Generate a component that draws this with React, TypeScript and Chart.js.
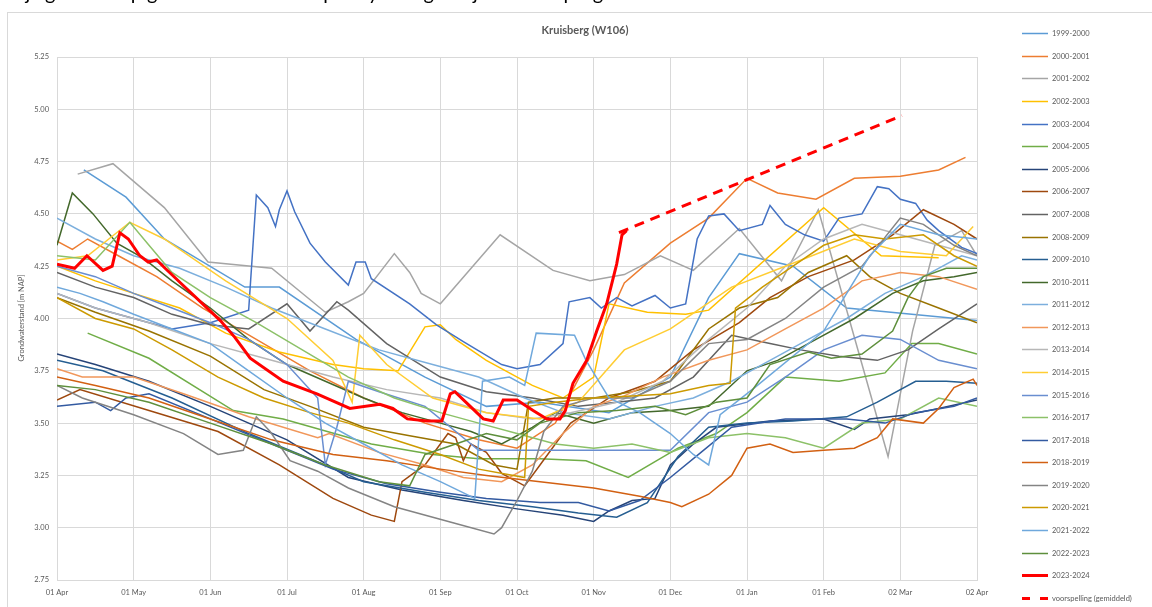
import React, { useEffect, useRef } from "react";
import { Chart, registerables } from "chart.js";

Chart.register(...registerables);

// x in months since 01 Apr (0..12), y in m NAP
const monthLabels = ["01 Apr", "01 May", "01 Jun", "01 Jul", "01 Aug", "01 Sep", "01 Oct", "01 Nov", "01 Dec", "01 Jan", "01 Feb", "02 Mar", "02 Apr"];
const seasonNames = ["1999-2000","2000-2001","2001-2002","2002-2003","2003-2004","2004-2005","2005-2006","2006-2007","2007-2008","2008-2009","2009-2010","2010-2011","2011-2012","2012-2013","2013-2014","2014-2015","2015-2016","2016-2017","2017-2018","2018-2019","2019-2020","2020-2021","2021-2022","2022-2023","2023-2024"];
const forecastName = "voorspelling (gemiddeld)";
const seasonColors = ["#5B9BD5","#ED7D31","#A5A5A5","#FFC000","#4472C4","#70AD47","#264478","#9E480E","#636363","#997300","#255E91","#43682B","#7CAFDD","#F1975A","#B7B7B7","#FFCD33","#698ED0","#8CC168","#335AA1","#D26012","#848484","#CC9A00","#6FA8DC","#5E8F3C","#FF0000"];

const s1999 = [[0.35,4.71],[0.9,4.58],[1.4,4.38],[2.45,4.15],[2.9,4.15],[3.9,3.90],[4.8,3.72],[5.6,3.58],[6.3,3.60],[7.2,3.55],[8.0,3.72],[8.5,4.10],[8.9,4.31],[9.6,4.25],[10.3,4.05],[12,3.99]];
const s2000 = [[0,4.37],[0.2,4.33],[0.4,4.38],[0.8,4.30],[1.3,4.20],[1.9,4.05],[2.6,3.90],[3.3,3.75],[4.0,3.62],[4.8,3.50],[5.5,3.42],[6.0,3.38],[6.5,3.50],[7.0,3.85],[7.4,4.17],[8.0,4.36],[8.5,4.48],[9.0,4.67],[9.4,4.60],[9.9,4.57],[10.4,4.67],[11.0,4.68],[11.5,4.71],[11.85,4.77]];
const s2001 = [[0.27,4.69],[0.73,4.74],[1.4,4.53],[1.97,4.27],[2.8,4.24],[3.5,4.03],[3.8,4.08],[4.0,4.12],[4.4,4.31],[4.6,4.22],[4.75,4.12],[5.0,4.07],[5.78,4.40],[6.47,4.23],[6.95,4.18],[7.4,4.21],[7.87,4.30],[8.3,4.23],[8.9,4.43],[9.45,4.18],[9.93,4.52],[10.84,3.34],[11.16,3.94],[11.45,4.35],[11.8,4.42],[12,4.30]];
const s2002 = [[0,4.25],[0.5,4.18],[1.0,4.12],[1.6,4.05],[2.2,3.93],[2.9,3.84],[3.6,3.78],[4.0,3.76],[4.45,3.75],[4.8,3.96],[5.0,3.97],[5.2,3.90],[5.6,3.80],[6.2,3.68],[6.6,3.62],[7.0,3.72],[7.2,4.07],[7.7,4.03],[8.2,4.02],[8.5,4.04],[10.0,4.53],[10.75,4.30],[11.5,4.29]];
const s2003 = [[0,4.12],[0.5,4.05],[1.0,4.00],[1.5,3.95],[2.0,3.98],[2.5,4.04],[2.6,4.59],[2.75,4.53],[2.85,4.44],[2.9,4.52],[3.0,4.61],[3.1,4.51],[3.3,4.36],[3.5,4.27],[3.8,4.16],[3.9,4.27],[4.02,4.27],[4.1,4.19],[4.6,4.07],[4.95,3.97],[5.3,3.89],[5.8,3.78],[6.0,3.76],[6.3,3.78],[6.6,3.88],[6.68,4.08],[6.95,4.10],[7.1,4.05],[7.3,4.10],[7.5,4.06],[7.8,4.11],[8.0,4.05],[8.2,4.07],[8.35,4.38],[8.5,4.49],[8.7,4.50],[8.9,4.42],[9.2,4.45],[9.3,4.54],[9.5,4.45],[9.75,4.40],[10.0,4.37],[10.2,4.48],[10.5,4.50],[10.7,4.63],[10.85,4.62],[11.0,4.57],[11.2,4.55],[11.35,4.47],[11.5,4.42],[11.8,4.34],[12,4.31]];
const s2004 = [[0.4,3.93],[1.2,3.81],[2.3,3.56],[2.95,3.52],[4.1,3.40],[4.9,3.35],[5.5,3.33],[6.3,3.33],[6.9,3.32],[7.45,3.24],[8.1,3.38],[8.6,3.45],[9.0,3.55],[9.5,3.72],[10.2,3.70],[10.8,3.74],[11.15,3.88],[11.5,3.88],[12,3.83]];
const s2005 = [[0,3.83],[0.5,3.78],[1.2,3.70],[2.0,3.58],[3.0,3.42],[3.8,3.24],[4.5,3.18],[5.3,3.13],[6.0,3.09],[6.6,3.06],[7.0,3.03],[7.2,3.08],[7.5,3.13],[7.8,3.14],[8.0,3.30],[8.3,3.40],[8.6,3.48],[9.3,3.51],[10.0,3.52],[10.4,3.47],[10.6,3.52],[11.1,3.54],[11.5,3.57],[12,3.61]];
const s2006 = [[0,3.61],[0.3,3.66],[1.2,3.56],[2.1,3.46],[2.9,3.30],[3.6,3.14],[4.1,3.06],[4.4,3.03],[4.5,3.22],[4.8,3.30],[5.1,3.45],[5.2,3.43],[5.3,3.32],[5.4,3.40],[5.6,3.36],[5.8,3.26],[6.1,3.20],[6.3,3.30],[6.7,3.50],[7.2,3.62],[7.8,3.70],[8.3,3.85],[8.9,3.98],[9.3,4.10],[9.8,4.20],[10.4,4.28],[10.9,4.40],[11.3,4.52],[11.7,4.45],[12,4.38]];
const s2007 = [[0,4.22],[0.5,4.15],[1.0,4.10],[1.5,4.02],[2.0,3.97],[2.5,3.95],[3.0,4.07],[3.3,3.94],[3.65,4.08],[3.8,4.04],[4.3,3.88],[5.0,3.72],[5.6,3.65],[6.2,3.62],[6.8,3.58],[7.3,3.60],[7.8,3.62],[8.3,3.72],[8.8,3.92],[9.3,3.88],[9.7,3.85],[10.2,3.82],[10.7,3.80],[11.1,3.85],[11.5,3.95],[12,4.07]];
const s2008 = [[0,4.10],[0.5,4.03],[1.2,3.94],[2.0,3.82],[2.7,3.66],[3.3,3.58],[4.0,3.48],[4.6,3.44],[5.2,3.40],[5.7,3.30],[6.0,3.28],[6.15,3.60],[6.5,3.62],[7.0,3.62],[7.5,3.65],[8.0,3.70],[8.5,3.95],[8.9,4.05],[9.4,4.10],[9.8,4.22],[10.3,4.30],[10.6,4.20],[11.0,4.12],[11.5,4.05],[12,3.98]];
const s2009 = [[0,3.80],[0.6,3.75],[1.5,3.62],[2.5,3.45],[3.3,3.33],[4.0,3.22],[4.8,3.17],[5.5,3.13],[6.2,3.10],[6.8,3.07],[7.3,3.05],[7.7,3.12],[8.1,3.34],[8.5,3.48],[9.0,3.50],[9.6,3.51],[10.3,3.53],[10.7,3.60],[11.2,3.70],[11.6,3.70],[12,3.69]];
const s2010 = [[0,4.35],[0.2,4.60],[0.47,4.50],[0.78,4.36],[1.12,4.29],[1.5,4.18],[2.0,4.05],[2.5,3.90],[3.0,3.78],[3.5,3.70],[4.0,3.62],[4.5,3.55],[5.0,3.50],[5.4,3.46],[5.8,3.40],[6.2,3.48],[6.5,3.55],[7.0,3.50],[7.5,3.55],[8.0,3.56],[8.5,3.58],[9.0,3.75],[9.4,3.80],[9.9,3.90],[10.4,4.00],[10.9,4.12],[11.3,4.18],[11.7,4.20],[12,4.22]];
const s2011 = [[0,4.48],[0.5,4.38],[1.0,4.30],[1.6,4.24],[2.2,4.15],[2.8,4.05],[3.5,3.95],[4.2,3.85],[4.9,3.78],[5.5,3.72],[6.1,3.62],[6.6,3.55],[7.2,3.52],[7.8,3.58],[8.3,3.62],[8.8,3.70],[9.3,3.80],[9.8,3.90],[10.3,4.00],[10.8,4.12],[11.3,4.20],[11.8,4.30],[12,4.28]];
const s2012 = [[0,3.76],[0.33,3.72],[1.0,3.72],[1.65,3.64],[2.5,3.53],[3.4,3.43],[3.55,3.45],[4.2,3.36],[4.8,3.30],[5.3,3.24],[5.8,3.22],[6.2,3.30],[6.6,3.45],[7.0,3.58],[7.4,3.63],[7.9,3.72],[8.5,3.80],[9.0,3.85],[9.5,3.95],[10.0,4.05],[10.5,4.18],[11.0,4.22],[11.5,4.20],[12,4.14]];
const s2013 = [[0,4.12],[0.5,4.05],[1.2,3.98],[2.0,3.88],[2.8,3.80],[3.6,3.72],[4.3,3.66],[5.0,3.62],[5.6,3.55],[6.2,3.52],[6.7,3.55],[7.3,3.60],[7.9,3.70],[8.5,3.90],[9.0,4.05],[9.5,4.25],[10.0,4.38],[10.5,4.45],[11.0,4.40],[11.5,4.35],[12,4.30]];
const s2014 = [[0,4.28],[0.4,4.30],[0.95,4.46],[1.4,4.38],[2.2,4.18],[3.0,4.00],[3.6,3.80],[3.85,3.60],[3.95,3.92],[4.3,3.78],[4.9,3.62],[5.6,3.55],[6.3,3.52],[6.8,3.60],[7.4,3.85],[8.0,3.95],[8.8,4.15],[9.5,4.25],[10.4,4.38],[11.0,4.32],[11.6,4.30],[11.95,4.44]];
const s2015 = [[0,4.25],[0.5,4.20],[1.0,4.12],[1.5,4.05],[2.0,3.98],[2.5,3.90],[3.0,3.78],[3.4,3.62],[3.5,3.30],[3.65,3.48],[3.8,3.70],[4.2,3.65],[4.8,3.58],[5.5,3.37],[6.0,3.37],[6.5,3.37],[7.0,3.37],[7.5,3.37],[8.0,3.37],[8.5,3.55],[9.0,3.60],[9.5,3.72],[10.0,3.85],[10.5,3.92],[11.0,3.90],[11.5,3.80],[12,3.76]];
const s2016 = [[0,4.30],[0.5,4.28],[0.95,4.46],[1.2,4.35],[1.5,4.22],[2.0,4.10],[2.6,3.98],[3.2,3.85],[3.8,3.72],[4.4,3.62],[5.0,3.55],[5.5,3.50],[6.0,3.45],[6.5,3.40],[7.0,3.38],[7.5,3.40],[8.0,3.36],[8.5,3.43],[9.0,3.45],[9.5,3.43],[10.0,3.38],[10.5,3.50],[11.0,3.52],[11.5,3.62],[12,3.58]];
const s2017 = [[0,3.58],[0.5,3.60],[0.7,3.56],[0.9,3.62],[1.2,3.64],[2.0,3.52],[2.8,3.40],[3.6,3.28],[4.3,3.21],[5.0,3.17],[5.6,3.14],[6.3,3.12],[6.8,3.12],[7.2,3.08],[7.6,3.13],[8.0,3.24],[8.4,3.36],[8.8,3.48],[9.5,3.52],[10.3,3.52],[10.8,3.50],[11.2,3.55],[11.7,3.58],[12,3.62]];
const s2018 = [[0,3.72],[0.5,3.68],[1.2,3.62],[2.0,3.52],[2.8,3.42],[3.6,3.35],[4.3,3.32],[5.0,3.28],[5.6,3.25],[6.3,3.22],[7.0,3.19],[7.6,3.15],[8.0,3.12],[8.15,3.10],[8.5,3.16],[8.8,3.25],[9.0,3.38],[9.3,3.40],[9.6,3.36],[10.0,3.37],[10.4,3.38],[10.7,3.43],[10.9,3.52],[11.3,3.50],[11.5,3.57],[11.7,3.67],[11.95,3.71],[12,3.68]];
const s2019 = [[0,3.68],[0.33,3.62],[1.0,3.54],[1.65,3.45],[2.1,3.35],[2.43,3.37],[2.6,3.53],[2.78,3.46],[3.04,3.32],[3.4,3.27],[3.8,3.19],[4.4,3.10],[5.2,3.02],[5.7,2.97],[5.8,3.00],[6.0,3.13],[6.2,3.27],[6.35,3.46],[6.6,3.58],[7.0,3.62],[7.5,3.62],[8.0,3.70],[8.5,3.88],[9.0,3.90],[9.5,4.00],[10.0,4.15],[10.5,4.25],[11.0,4.48],[11.3,4.45],[11.7,4.35],[12,4.30]];
const s2020 = [[0,4.10],[0.5,4.00],[1.0,3.95],[1.5,3.85],[2.1,3.72],[2.7,3.62],[3.3,3.55],[3.8,3.50],[4.4,3.42],[5.0,3.35],[5.5,3.28],[6.1,3.24],[6.15,3.58],[6.5,3.60],[7.0,3.62],[7.5,3.63],[8.0,3.64],[8.5,3.68],[8.78,3.69],[8.85,4.05],[9.2,4.15],[9.6,4.25],[10.0,4.35],[10.4,4.40],[10.8,4.38],[11.3,4.40],[11.7,4.30],[12,4.25]];
const s2021 = [[0,4.15],[0.3,4.12],[0.6,4.08],[1.0,4.02],[1.5,3.95],[2.0,3.88],[2.5,3.75],[3.0,3.62],[3.5,3.50],[4.0,3.40],[4.5,3.30],[5.0,3.22],[5.45,3.14],[5.55,3.70],[5.9,3.72],[6.1,3.68],[6.25,3.93],[6.75,3.92],[6.9,3.80],[7.2,3.62],[7.6,3.55],[8.0,3.45],[8.3,3.35],[8.5,3.30],[8.65,3.54],[9.1,3.67],[10.0,3.94],[10.6,4.30],[11.0,4.45],[11.5,4.40],[12,4.38]];
const s2022 = [[0,3.68],[0.5,3.66],[1.2,3.60],[2.0,3.50],[2.8,3.40],[3.5,3.30],[4.2,3.22],[4.6,3.20],[4.8,3.35],[5.2,3.40],[5.6,3.45],[6.0,3.42],[6.3,3.50],[6.8,3.55],[7.3,3.56],[7.8,3.58],[8.2,3.54],[8.6,3.60],[9.0,3.62],[9.3,3.78],[9.8,3.84],[10.1,3.81],[10.5,3.83],[10.9,3.94],[11.1,4.10],[11.3,4.20],[11.6,4.24],[12,4.24]];
const s2023 = [[0,4.26],[0.23,4.24],[0.39,4.30],[0.6,4.23],[0.72,4.25],[0.82,4.41],[0.93,4.38],[1.08,4.30],[1.19,4.27],[1.3,4.28],[1.41,4.24],[1.64,4.16],[1.9,4.07],[2.13,3.99],[2.32,3.91],[2.52,3.81],[2.95,3.70],[3.39,3.64],[3.82,3.57],[4.21,3.59],[4.38,3.57],[4.57,3.52],[4.83,3.51],[5.02,3.51],[5.13,3.64],[5.19,3.65],[5.39,3.58],[5.56,3.52],[5.69,3.51],[5.82,3.61],[6.0,3.61],[6.21,3.56],[6.39,3.52],[6.56,3.52],[6.63,3.56],[6.73,3.69],[6.91,3.80],[7.04,3.94],[7.17,4.07],[7.3,4.26],[7.37,4.40],[7.43,4.42]];
const forecast = [[7.33,4.41],[11.02,4.97]];

const allSeasons = [s1999,s2000,s2001,s2002,s2003,s2004,s2005,s2006,s2007,s2008,s2009,s2010,s2011,s2012,s2013,s2014,s2015,s2016,s2017,s2018,s2019,s2020,s2021,s2022,s2023];

const FONT = "Lato, 'Liberation Sans', sans-serif";

const decorPlugin = {
  id: "decor",
  beforeDraw(chart: any) {
    const ctx = chart.ctx;
    ctx.save();
    ctx.fillStyle = "#ffffff";
    ctx.fillRect(0, 0, chart.width, chart.height);
    ctx.strokeStyle = "#D9D9D9";
    ctx.lineWidth = 1;
    ctx.strokeRect(7.5, 12.5, 1200, 700);
    ctx.restore();
  },
  afterDraw(chart: any) {
    const ctx = chart.ctx;
    ctx.save();
    ctx.fillStyle = "#595959";
    ctx.font = `bold 11px ${FONT}`;
    ctx.textAlign = "center";
    ctx.textBaseline = "middle";
    ctx.fillText("Kruisberg (W106)", 585, 30);
    ctx.save();
    ctx.translate(22, 318);
    ctx.rotate(-Math.PI / 2);
    ctx.font = `7.5px ${FONT}`;
    ctx.fillText("Grondwaterstand [m NAP]", 0, 0);
    ctx.restore();
    ctx.textAlign = "left";
    ctx.font = `7.5px ${FONT}`;
    chart.data.datasets.forEach((ds: any, i: number) => {
      const y = Math.round(33.3 + i * 22.58) + 0.5;
      ctx.strokeStyle = ds.borderColor;
      ctx.lineWidth = ds.borderWidth;
      ctx.setLineDash(ds.borderDash ? [8, 10] : []);
      ctx.beginPath();
      ctx.moveTo(1022, y);
      ctx.lineTo(1048, y);
      ctx.stroke();
      ctx.setLineDash([]);
      ctx.fillStyle = "#595959";
      ctx.fillText(ds.label, 1052, y);
    });
    ctx.restore();
  },
};

export default function App() {
  const ref = useRef<HTMLCanvasElement>(null);
  useEffect(() => {
    const n = allSeasons.length;
    const datasets: any[] = allSeasons.map((s, i) => ({
      label: seasonNames[i],
      data: s.map(([x, y]) => ({ x, y })),
      borderColor: seasonColors[i],
      backgroundColor: seasonColors[i],
      borderWidth: i === n - 1 ? 3 : 1.5,
      pointRadius: 0,
      tension: 0,
      order: n + 1 - i,
    }));
    datasets.push({
      label: forecastName,
      data: forecast.map(([x, y]) => ({ x, y })),
      borderColor: "#FF0000",
      backgroundColor: "#FF0000",
      borderWidth: 3,
      borderDash: [10, 7],
      pointRadius: 0,
      tension: 0,
      order: 0,
    });
    const chart = new Chart(ref.current!, {
      type: "line",
      data: { datasets },
      plugins: [decorPlugin],
      options: {
        animation: false,
        responsive: false,
        maintainAspectRatio: false,
        layout: { padding: { left: 17, right: 175, top: 57, bottom: 7 } },
        plugins: { legend: { display: false }, tooltip: { enabled: false }, title: { display: false } },
        scales: {
          x: {
            type: "linear",
            min: 0,
            max: 12,
            afterFit: (s: any) => { s.height = 20; },
            ticks: {
              stepSize: 1,
              autoSkip: false,
              maxRotation: 0,
              padding: 8,
              color: "#595959",
              font: { size: 7.5, family: FONT },
              callback: (v: any) => monthLabels[Math.round(Number(v))] ?? "",
            },
            grid: { color: "#D9D9D9", lineWidth: 1, drawTicks: false },
            border: { color: "#D9D9D9" },
          },
          y: {
            min: 2.75,
            max: 5.25,
            afterFit: (s: any) => { s.width = 40; },
            ticks: {
              stepSize: 0.25,
              padding: 8,
              color: "#595959",
              font: { size: 7.5, family: FONT },
              callback: (v: any) => Number(v).toFixed(2),
            },
            grid: { color: "#D9D9D9", lineWidth: 1, drawTicks: false },
            border: { color: "#D9D9D9" },
          },
        },
      },
    });
    return () => chart.destroy();
  }, []);
  return (
    <div style={{ position: "fixed", left: 0, top: 0, width: 1152, height: 607, background: "#fff", overflow: "hidden" }}>
      <canvas ref={ref} width={1152} height={607} style={{ position: "absolute", left: 0, top: 0, width: 1152, height: 607 }} />
      <div style={{ position: "absolute", left: 8, top: -20, fontFamily: FONT, fontSize: 20, color: "#000", whiteSpace: "nowrap" }}>
        Bijlage: verloop grondwaterstanden per hydrologisch jaar en de prognose
      </div>
    </div>
  );
}
